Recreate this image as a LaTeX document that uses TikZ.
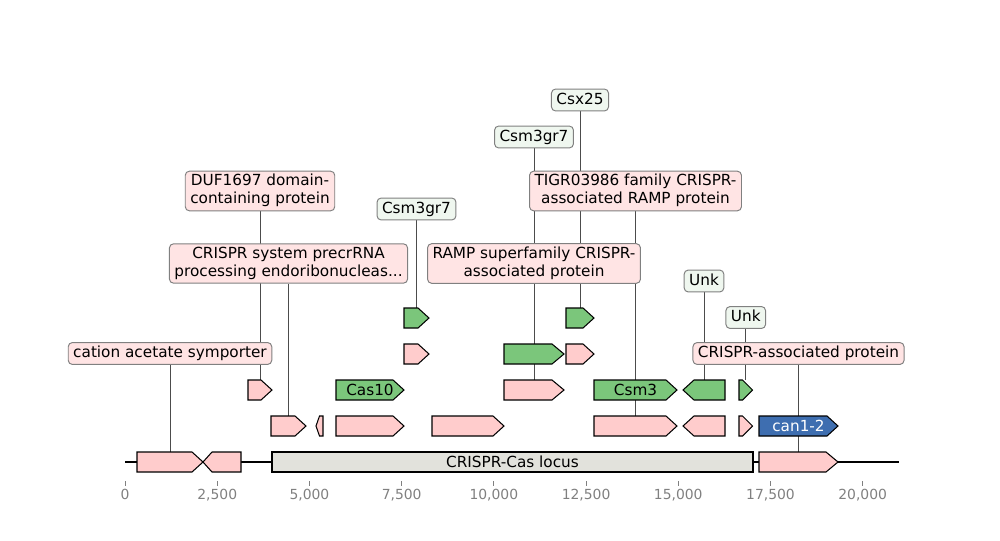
\documentclass[tikz,border=0pt]{standalone}
\usepackage{fontspec}
\setmainfont{DejaVu Sans}
\usetikzlibrary{backgrounds}

\definecolor{genepink}{RGB}{255,204,204}
\definecolor{genegreen}{RGB}{123,198,123}
\definecolor{geneblue}{RGB}{62,110,176}
\definecolor{locusgrey}{RGB}{226,226,220}
\definecolor{notepink}{RGB}{255,228,228}
\definecolor{notegreen}{RGB}{239,247,239}
\definecolor{noteedge}{RGB}{128,128,128}

\newcommand{\lstrut}{\rule[-2.8pt]{0pt}{11.4pt}}

\tikzset{
  genebody/.style={draw=black, line width=0.75pt, line join=miter},
  pinkgene/.style={genebody, fill=genepink},
  greengene/.style={genebody, fill=genegreen},
  bluegene/.style={genebody, fill=geneblue},
  locusbox/.style={genebody, fill=locusgrey},
  genetext/.style={font=\fontsize{11}{13}\selectfont, inner sep=0pt},
  note/.style={draw=noteedge, line width=0.7pt, rounded corners=3pt,
    inner xsep=3.6pt, inner ysep=2.2pt, align=center,
    font=\fontsize{11}{13}\selectfont,
    execute at begin node=\lstrut, execute at end node=\lstrut},
  pinknote/.style={note, fill=notepink},
  greennote/.style={note, fill=notegreen},
  leader/.style={draw=black!70, line width=0.55pt},
  tickmark/.style={draw=gray, line width=0.6pt},
}

% forward gene: [head]{style}{name}{x1}{x2}{row}
\newcommand{\genefwd}[6][11]{%
  \draw[#2] (#4,#6-10) -- ({#5-#1},#6-10) -- (#5,#6) -- ({#5-#1},#6+10)
    -- (#4,#6+10) -- cycle;
  \coordinate (#3) at ({(#4+#5)/2},#6-10);}
% reverse gene: [head]{style}{name}{x1}{x2}{row}
\newcommand{\generev}[6][11]{%
  \draw[#2] (#5,#6-10) -- ({#4+#1},#6-10) -- (#4,#6) -- ({#4+#1},#6+10)
    -- (#5,#6+10) -- cycle;
  \coordinate (#3) at ({(#4+#5)/2},#6-10);}

\begin{document}
\begin{tikzpicture}[x=0.72pt, y=-0.72pt]
\useasboundingbox (0,0) rectangle (1000,540);

% backbone and axis (kb)
\draw[line width=1.4pt] (125,462) -- (899,462);
\foreach \v/\t in {0/0, 2.5/{2,500}, 5/{5,000}, 7.5/{7,500},
  10/{10,000}, 12.5/{12,500}, 15/{15,000}, 17.5/{17,500}, 20/{20,000}}
  \draw[tickmark] ({125+36.885*\v},481) -- ({125+36.885*\v},486)
    node[below, inner sep=2pt, text=gray, font=\fontsize{10}{12}\selectfont] (tick\v) {\t};

% row 0
\genefwd{pinkgene}{g01}{137}{203}{462}
\generev[9]{pinkgene}{g02}{203}{241}{462}
\draw[locusbox] (272,452) rectangle (753,472);
\node[genetext] (locus) at (512.5,462) {CRISPR-Cas locus};
\genefwd[12]{pinkgene}{g03}{759}{838}{462}

% row 1
\genefwd{pinkgene}{g11}{271}{306}{426}
\generev[3.5]{pinkgene}{g12}{316}{323}{426}
\genefwd{pinkgene}{g13}{336}{404}{426}
\genefwd{pinkgene}{g14}{432}{504}{426}
\genefwd{pinkgene}{g15}{594}{677}{426}
\generev{pinkgene}{g16}{683}{725}{426}
\genefwd[10]{pinkgene}{g17}{739}{752.5}{426}
\genefwd{bluegene}{g18}{759}{838}{426}
\node[genetext, text=white] (can) at (798.5,426) {can1-2};

% row 2
\genefwd{pinkgene}{g21}{248}{272}{390}
\genefwd{greengene}{g22}{336}{404}{390}
\node[genetext] (cas10) at (370,390) {Cas10};
\genefwd[12]{pinkgene}{g23}{504}{564}{390}
\genefwd{greengene}{g24}{594}{677}{390}
\node[genetext] (csm3) at (635.5,390) {Csm3};
\generev{greengene}{g25}{683}{725}{390}
\genefwd[10]{greengene}{g26}{739}{752.5}{390}

% row 3
\genefwd{pinkgene}{g31}{404}{429}{354}
\genefwd[12]{greengene}{g32}{504}{564}{354}
\genefwd{pinkgene}{g33}{566}{594}{354}

% row 4
\genefwd{greengene}{g41}{404}{429}{318}
\genefwd{greengene}{g42}{566}{594}{318}

% annotations
\node[pinknote] (symp) at (170,353.5) {cation acetate symporter};
\node[pinknote] (duf) at (260,191) {DUF1697 domain-\\containing protein};
\node[pinknote] (precr) at (288.5,263.5) {CRISPR system precrRNA\\processing endoribonucleas...};
\node[greennote] (gr7a) at (416.5,209) {Csm3gr7};
\node[greennote] (gr7b) at (534,137) {Csm3gr7};
\node[greennote] (csx) at (580,100) {Csx25};
\node[pinknote] (tigr) at (635.5,191) {TIGR03986 family CRISPR-\\associated RAMP protein};
\node[pinknote] (ramp) at (534,263.5) {RAMP superfamily CRISPR-\\associated protein};
\node[greennote] (unka) at (704,281) {Unk};
\node[greennote] (unkb) at (745.75,317.5) {Unk};
\node[pinknote] (casp) at (798.5,353.5) {CRISPR-associated protein};

\begin{scope}[on background layer]
\draw[leader] (g01) -- (g01 |- symp.south);
\draw[leader] (g21) -- (g21 |- duf.south);
\draw[leader] (g11) -- (g11 |- precr.south);
\draw[leader] (g41) -- (g41 |- gr7a.south);
\draw[leader] (g32) -- (g32 |- gr7b.south);
\draw[leader] (g42) -- (g42 |- csx.south);
\draw[leader] (g15) -- (g15 |- tigr.south);
\draw[leader] (g23) -- (g23 |- ramp.south);
\draw[leader] (g25) -- (g25 |- unka.south);
\draw[leader] (g26) -- (g26 |- unkb.south);
\draw[leader] (g03) -- (g03 |- casp.south);
\end{scope}
\end{tikzpicture}
\end{document}
